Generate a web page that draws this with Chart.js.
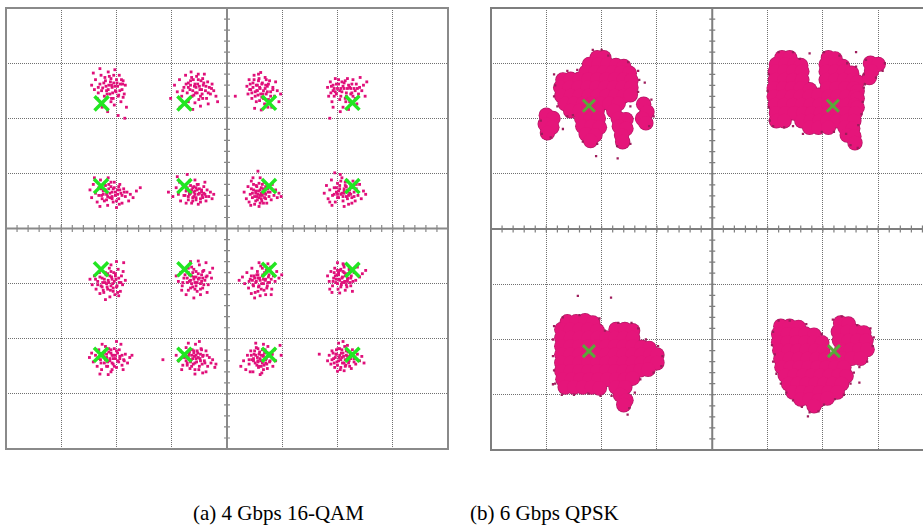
<!DOCTYPE html>
<html>
<head>
<meta charset="utf-8">
<script src="https://cdn.jsdelivr.net/npm/chart.js@4.4.1/dist/chart.umd.min.js"></script>
<style>
  html, body { margin: 0; padding: 0; background: #fff; width: 923px; height: 526px; overflow: hidden; }
  #stage { position: relative; width: 923px; height: 526px; overflow: hidden; }
  .panel { position: absolute; top: 0; width: 460px; height: 460px; }
  #panelA { left: 0; }
  #panelB { left: 485px; filter: blur(0.4px); }
  .caption { position: absolute; top: 503px; font-family: 'Liberation Serif', 'Times New Roman', serif;
             font-size: 21px; line-height: 21px; color: #000; white-space: nowrap; }
</style>
</head>
<body>
<div id="stage">
  <canvas id="panelA" class="panel" width="460" height="460"></canvas>
  <canvas id="panelB" class="panel" width="460" height="460"></canvas>
  <div class="caption" style="left:193px">(a) 4 Gbps 16-QAM</div>
  <div class="caption" style="left:470px">(b) 6 Gbps QPSK</div>
</div>
<script>
// ---------- 16-QAM, 4 Gbps: ideal symbol positions ----------
const qamIdeal = [
  [-2.27, 2.27], [-0.77, 2.27], [0.76, 2.28], [2.27, 2.28],
  [-2.28, 0.77], [-0.77, 0.77], [0.76, 0.77], [2.27, 0.77],
  [-2.28, -0.74], [-0.77, -0.74], [0.76, -0.75], [2.27, -0.75],
  [-2.28, -2.29], [-0.77, -2.29], [0.76, -2.29], [2.27, -2.29]
];

// ---------- 16-QAM received samples, one array per symbol (row A = top) ----------
const qamA1 = [[-2.45,2.60],[-2.40,2.52],[-2.38,2.70],[-2.33,2.46],[-2.30,2.62],[-2.28,2.78],[-2.25,2.55],[-2.22,2.40],[-2.20,2.68],[-2.18,2.50],
  [-2.15,2.84],[-2.14,2.60],[-2.12,2.44],[-2.10,2.72],[-2.08,2.56],[-2.06,2.36],[-2.05,2.64],[-2.03,2.88],[-2.02,2.50],[-2.00,2.70],
  [-1.98,2.58],[-1.96,2.42],[-1.95,2.78],[-1.93,2.62],[-1.92,2.30],[-1.90,2.52],[-1.88,2.68],[-1.86,2.44],[-1.84,2.60],[-1.82,2.20],
  [-2.35,2.36],[-2.26,2.20],[-2.16,2.12],[-2.04,2.24],[-1.97,2.05],[-1.85,2.00],[-2.30,2.90],[-2.42,2.82],[-1.88,2.38],[-2.10,2.30],
  [-2.09,2.60],[-2.01,2.48],[-2.15,2.52],[-1.99,2.64],[-2.11,2.66],[-2.19,2.58],[-2.03,2.58],[-1.94,2.50],[-2.07,2.46],[-2.23,2.64],
  [-1.91,2.70],[-2.13,2.76],[-2.27,2.50],[-2.05,2.78],[-1.97,2.40],[-2.17,2.44],[-2.33,2.56],[-1.89,2.62],[-2.21,2.74],[-2.09,2.36]];
const qamA2 = [[-1.02,2.36],[-0.95,2.60],[-0.90,2.48],[-0.86,2.70],[-0.82,2.40],[-0.78,2.56],[-0.75,2.78],[-0.72,2.46],[-0.70,2.64],[-0.67,2.52],
  [-0.65,2.84],[-0.63,2.40],[-0.61,2.70],[-0.59,2.58],[-0.57,2.46],[-0.55,2.76],[-0.53,2.62],[-0.51,2.34],[-0.49,2.52],[-0.47,2.68],
  [-0.45,2.44],[-0.43,2.60],[-0.41,2.80],[-0.39,2.50],[-0.37,2.36],[-0.35,2.66],[-0.32,2.56],[-0.30,2.44],[-0.27,2.62],[-0.24,2.50],
  [-0.20,2.40],[-0.17,2.30],[-0.85,2.20],[-0.62,2.16],[-0.48,2.22],[-0.34,2.26],[-0.70,2.30],[-0.58,2.28],[-0.44,2.72],[-0.66,2.60],
  [-0.58,2.62],[-0.50,2.58],[-0.62,2.50],[-0.54,2.46],[-0.46,2.52],[-0.66,2.68],[-0.42,2.64],[-0.60,2.42],[-0.52,2.70],[-0.70,2.56],
  [-0.38,2.58],[-0.48,2.40],[-0.74,2.62],[-0.56,2.56],[-0.34,2.46],[-0.64,2.74],[-0.44,2.36],[-0.80,2.50],[-0.28,2.54],[-0.52,2.80]];
const qamA3 = [[0.15,2.40],[0.36,2.58],[0.38,2.44],[0.40,2.70],[0.43,2.52],[0.45,2.36],[0.47,2.64],[0.49,2.78],[0.51,2.48],[0.53,2.30],
  [0.55,2.60],[0.56,2.42],[0.58,2.72],[0.60,2.54],[0.61,2.83],[0.63,2.38],[0.64,2.64],[0.66,2.50],[0.68,2.26],[0.69,2.74],
  [0.71,2.44],[0.73,2.58],[0.75,2.34],[0.77,2.68],[0.79,2.48],[0.81,2.20],[0.83,2.56],[0.86,2.40],[0.88,2.66],[0.91,2.50],
  [0.94,2.30],[0.97,2.44],[0.50,2.18],[0.62,2.15],[0.74,2.20],[0.42,2.62],[0.57,2.80],[0.70,2.60],[0.54,2.50],[0.66,2.36],
  [0.59,2.56],[0.65,2.44],[0.55,2.50],[0.63,2.62],[0.69,2.54],[0.51,2.40],[0.57,2.68],[0.73,2.48],[0.47,2.56],[0.67,2.36],
  [0.61,2.44],[0.53,2.60],[0.75,2.62],[0.45,2.46],[0.71,2.70],[0.49,2.70],[0.79,2.40],[0.59,2.32],[0.83,2.52],[0.41,2.52]];
const qamA4 = [[1.82,2.56],[1.84,2.40],[1.86,2.00],[1.87,2.66],[1.90,2.30],[1.92,2.50],[1.94,2.54],[1.96,2.72],[1.98,2.44],[2.00,2.54],
  [2.02,2.62],[2.04,2.34],[2.06,2.54],[2.08,2.48],[2.10,2.20],[2.12,2.54],[2.14,2.68],[2.16,2.40],[2.18,2.54],[2.20,2.60],
  [2.22,2.30],[2.24,2.54],[2.26,2.46],[2.28,2.70],[2.30,2.54],[2.32,2.36],[2.34,2.62],[2.36,2.54],[2.38,2.44],[2.41,2.74],
  [2.44,2.50],[2.47,2.60],[2.50,2.40],[2.53,2.66],[1.92,2.20],[2.05,2.12],[2.20,2.16],[1.89,2.58],[2.15,2.30],[2.35,2.26],
  [2.04,2.50],[2.10,2.58],[1.98,2.62],[2.16,2.46],[2.12,2.64],[1.96,2.48],[2.22,2.56],[2.06,2.40],[2.18,2.72],[1.92,2.60],
  [2.26,2.62],[2.02,2.70],[2.28,2.40],[1.94,2.40],[2.32,2.50],[2.08,2.66],[2.40,2.56],[2.14,2.36],[1.88,2.46],[2.24,2.44]];
const qamB1 = [[-2.48,0.70],[-2.45,0.56],[-2.42,0.80],[-2.38,0.64],[-2.35,0.48],[-2.32,0.74],[-2.29,0.88],[-2.27,0.60],[-2.24,0.68],[-2.22,0.50],
  [-2.20,0.78],[-2.18,0.62],[-2.16,0.42],[-2.14,0.72],[-2.12,0.56],[-2.10,0.84],[-2.08,0.66],[-2.06,0.48],[-2.04,0.74],[-2.02,0.60],
  [-2.00,0.38],[-1.98,0.70],[-1.96,0.54],[-1.94,0.80],[-1.92,0.64],[-1.90,0.46],[-1.87,0.72],[-1.84,0.58],[-1.81,0.66],[-1.78,0.50],
  [-1.75,0.62],[-1.70,0.56],[-1.64,0.68],[-1.57,0.74],[-2.30,0.40],[-2.40,0.92],[-2.15,0.92],[-1.95,0.44],[-2.26,0.54],[-2.08,0.58],
  [-2.12,0.64],[-2.06,0.72],[-2.16,0.58],[-2.02,0.66],[-2.20,0.70],[-2.10,0.76],[-1.98,0.62],[-2.24,0.62],[-2.08,0.54],[-1.94,0.70],
  [-2.14,0.80],[-2.28,0.72],[-2.00,0.50],[-1.90,0.60],[-2.18,0.52],[-2.04,0.84],[-1.86,0.66],[-2.32,0.60],[-2.22,0.82],[-1.96,0.76]];
const qamB2 = [[-1.06,0.66],[-0.98,0.58],[-0.92,0.74],[-0.88,0.62],[-0.84,0.50],[-0.80,0.80],[-0.76,0.60],[-0.73,0.70],[-0.70,0.52],[-0.68,0.86],
  [-0.66,0.64],[-0.64,0.46],[-0.62,0.74],[-0.60,0.58],[-0.58,0.68],[-0.56,0.52],[-0.54,0.80],[-0.52,0.62],[-0.50,0.72],[-0.48,0.48],
  [-0.46,0.66],[-0.44,0.56],[-0.42,0.76],[-0.40,0.62],[-0.38,0.50],[-0.36,0.70],[-0.33,0.58],[-0.30,0.66],[-0.27,0.54],[-0.24,0.62],
  [-0.90,0.94],[-0.72,0.98],[-0.58,0.88],[-0.86,0.84],[-0.62,0.56],[-0.52,0.44],[-0.68,0.62],[-0.45,0.60],[-0.74,0.46],[-0.40,0.84],
  [-0.64,0.70],[-0.58,0.62],[-0.68,0.64],[-0.54,0.70],[-0.60,0.76],[-0.70,0.58],[-0.50,0.64],[-0.56,0.56],[-0.66,0.78],[-0.46,0.70],
  [-0.74,0.68],[-0.62,0.50],[-0.52,0.80],[-0.42,0.64],[-0.78,0.60],[-0.48,0.54],[-0.56,0.74],[-0.72,0.74],[-0.38,0.58],[-0.60,0.66]];
const qamB3 = [[0.31,0.66],[0.35,0.54],[0.38,0.76],[0.40,0.48],[0.42,0.62],[0.44,0.86],[0.46,0.56],[0.48,0.70],[0.50,0.44],[0.52,0.64],
  [0.53,0.78],[0.55,0.52],[0.57,0.68],[0.58,0.40],[0.60,0.60],[0.62,0.74],[0.63,0.50],[0.65,0.66],[0.67,0.84],[0.68,0.56],
  [0.70,0.62],[0.72,0.46],[0.74,0.72],[0.76,0.58],[0.78,0.66],[0.80,0.52],[0.82,0.80],[0.85,0.60],[0.88,0.70],[0.91,0.56],
  [0.94,0.64],[0.98,0.58],[0.56,1.04],[0.60,0.92],[0.47,0.92],[0.66,0.46],[0.43,0.42],[0.54,0.58],[0.70,0.76],[0.62,0.54],
  [0.56,0.62],[0.60,0.70],[0.52,0.68],[0.64,0.60],[0.58,0.56],[0.50,0.58],[0.66,0.72],[0.54,0.76],[0.62,0.64],[0.46,0.64],
  [0.70,0.54],[0.58,0.82],[0.44,0.72],[0.68,0.64],[0.52,0.50],[0.74,0.66],[0.60,0.46],[0.48,0.80],[0.76,0.76],[0.64,0.80]];
const qamB4 = [[1.76,0.64],[1.80,0.78],[1.83,0.54],[1.86,0.70],[1.89,0.88],[1.91,0.60],[1.94,0.74],[1.96,0.48],[1.98,0.66],[2.00,0.82],
  [2.02,0.56],[2.04,0.72],[2.06,0.62],[2.08,0.92],[2.10,0.50],[2.12,0.68],[2.14,0.78],[2.16,0.58],[2.18,0.70],[2.20,0.44],
  [2.22,0.64],[2.24,0.76],[2.26,0.56],[2.28,0.86],[2.30,0.66],[2.32,0.50],[2.34,0.72],[2.37,0.60],[2.40,0.80],[2.43,0.54],
  [2.47,0.68],[2.51,0.62],[1.95,1.01],[2.05,0.98],[1.90,0.42],[2.12,0.40],[2.00,0.62],[2.18,0.86],[2.26,0.46],[1.86,0.48],
  [2.12,0.72],[2.18,0.66],[2.08,0.64],[2.16,0.76],[2.22,0.70],[2.04,0.78],[2.10,0.58],[2.20,0.60],[2.02,0.68],[2.26,0.74],
  [2.14,0.84],[1.98,0.74],[2.24,0.62],[2.06,0.86],[2.30,0.58],[1.94,0.62],[2.18,0.54],[2.34,0.80],[2.00,0.56],[2.12,0.64]];
const qamC1 = [[-2.48,-0.92],[-2.44,-1.02],[-2.40,-0.86],[-2.37,-1.10],[-2.34,-0.96],[-2.31,-0.80],[-2.28,-1.04],[-2.26,-0.90],[-2.23,-1.16],[-2.21,-0.98],
  [-2.19,-0.84],[-2.17,-1.06],[-2.15,-0.94],[-2.13,-0.72],[-2.11,-1.12],[-2.09,-0.88],[-2.07,-1.00],[-2.05,-0.80],[-2.03,-1.20],[-2.01,-0.92],
  [-1.99,-1.04],[-1.97,-0.74],[-1.95,-0.98],[-1.93,-1.14],[-1.91,-0.86],[-1.89,-1.02],[-1.87,-0.62],[-1.84,-0.94],[-2.20,-1.29],[-2.12,-1.24],
  [-2.00,-0.60],[-2.10,-0.66],[-2.30,-1.18],[-1.96,-1.22],[-2.25,-0.98],[-2.06,-1.08],[-2.16,-0.82],[-1.88,-0.78],[-2.38,-0.92],[-2.02,-0.86],
  [-2.14,-0.98],[-2.08,-0.92],[-2.18,-1.00],[-2.10,-1.04],[-2.04,-0.96],[-2.22,-0.92],[-2.12,-0.86],[-2.00,-1.06],[-2.26,-1.06],[-2.06,-1.14],
  [-1.96,-0.90],[-2.16,-1.10],[-2.30,-0.88],[-2.02,-0.82],[-1.92,-0.98],[-2.20,-0.80],[-2.34,-1.02],[-1.98,-1.16],[-2.10,-0.78],[-2.24,-1.12]];
const qamC2 = [[-0.92,-0.86],[-0.88,-0.96],[-0.84,-0.80],[-0.81,-1.04],[-0.78,-0.90],[-0.75,-0.74],[-0.72,-0.98],[-0.70,-1.12],[-0.68,-0.84],[-0.66,-0.94],
  [-0.64,-0.70],[-0.62,-1.06],[-0.60,-0.88],[-0.58,-0.98],[-0.56,-0.78],[-0.54,-1.14],[-0.52,-0.92],[-0.50,-0.66],[-0.48,-1.00],[-0.46,-0.84],
  [-0.44,-1.08],[-0.42,-0.76],[-0.40,-0.94],[-0.38,-0.62],[-0.36,-0.86],[-0.34,-1.02],[-0.31,-0.80],[-0.28,-0.90],[-0.26,-0.72],[-0.74,-1.20],
  [-0.60,-1.26],[-0.48,-1.20],[-0.66,-0.60],[-0.52,-0.59],[-0.82,-1.12],[-0.56,-0.88],[-0.64,-1.00],[-0.44,-0.90],[-0.70,-0.80],[-0.36,-1.16],
  [-0.60,-0.92],[-0.54,-0.98],[-0.64,-0.86],[-0.56,-1.04],[-0.50,-0.90],[-0.68,-0.96],[-0.62,-0.80],[-0.46,-0.96],[-0.58,-1.10],[-0.72,-0.90],
  [-0.52,-0.82],[-0.42,-1.02],[-0.66,-1.08],[-0.76,-0.84],[-0.48,-1.10],[-0.38,-0.88],[-0.70,-0.72],[-0.60,-0.74],[-0.80,-0.98],[-0.44,-0.78]];
const qamC3 = [[0.22,-0.94],[0.28,-0.88],[0.32,-1.00],[0.36,-0.80],[0.39,-1.08],[0.42,-0.92],[0.45,-0.72],[0.47,-1.02],[0.49,-0.86],[0.51,-1.16],
  [0.53,-0.96],[0.55,-0.78],[0.57,-1.06],[0.59,-0.90],[0.61,-0.68],[0.63,-1.00],[0.65,-0.84],[0.67,-1.12],[0.69,-0.94],[0.71,-0.76],
  [0.73,-1.04],[0.75,-0.88],[0.77,-0.98],[0.79,-0.70],[0.81,-1.10],[0.84,-0.86],[0.87,-0.96],[0.90,-0.78],[0.94,-0.90],[0.99,-0.84],
  [0.50,-1.26],[0.60,-1.22],[0.70,-1.20],[0.44,-1.18],[0.58,-0.62],[0.80,-1.20],[0.46,-0.94],[0.66,-0.92],[0.56,-0.84],[0.74,-0.64],
  [0.60,-0.94],[0.66,-1.00],[0.56,-0.90],[0.64,-0.86],[0.58,-1.04],[0.70,-0.92],[0.52,-0.98],[0.62,-1.10],[0.68,-0.80],[0.54,-0.84],
  [0.74,-0.98],[0.48,-1.04],[0.72,-1.08],[0.50,-0.90],[0.76,-0.84],[0.44,-0.86],[0.64,-0.72],[0.56,-1.14],[0.80,-0.92],[0.40,-0.96]];
const qamC4 = [[1.82,-0.86],[1.85,-0.96],[1.88,-0.78],[1.91,-1.04],[1.93,-0.90],[1.95,-0.72],[1.97,-0.98],[1.99,-0.84],[2.01,-1.10],[2.03,-0.92],
  [2.05,-0.76],[2.07,-1.02],[2.09,-0.88],[2.11,-0.66],[2.13,-0.96],[2.15,-0.82],[2.17,-1.06],[2.19,-0.90],[2.21,-0.74],[2.23,-0.98],
  [2.25,-0.86],[2.27,-1.14],[2.30,-0.80],[2.33,-0.94],[2.36,-0.70],[2.40,-0.88],[2.45,-0.82],[2.51,-0.76],[1.90,-1.16],[2.04,-1.17],
  [2.14,-1.12],[2.00,-0.62],[2.10,-0.64],[1.96,-0.86],[2.08,-0.98],[2.18,-0.96],[1.86,-1.10],[2.24,-1.04],[2.02,-0.80],[2.12,-0.80],
  [2.08,-0.90],[2.14,-0.86],[2.04,-0.94],[2.12,-0.98],[2.02,-0.84],[2.18,-0.92],[2.10,-0.78],[2.00,-1.00],[2.20,-0.82],[1.98,-0.92],
  [2.16,-1.02],[2.06,-0.74],[2.24,-0.90],[1.94,-0.80],[2.22,-0.76],[2.06,-1.06],[1.92,-0.96],[2.28,-0.96],[2.12,-0.70],[2.00,-0.76]];
const qamD1 = [[-2.49,-2.34],[-2.45,-2.26],[-2.42,-2.42],[-2.38,-2.30],[-2.35,-2.50],[-2.32,-2.20],[-2.29,-2.38],[-2.27,-2.56],[-2.24,-2.28],[-2.22,-2.44],
  [-2.20,-2.14],[-2.18,-2.34],[-2.16,-2.50],[-2.14,-2.24],[-2.12,-2.40],[-2.10,-2.60],[-2.08,-2.30],[-2.06,-2.46],[-2.04,-2.18],[-2.02,-2.36],
  [-2.00,-2.52],[-1.98,-2.26],[-1.96,-2.42],[-1.94,-2.32],[-1.92,-2.10],[-1.90,-2.48],[-1.87,-2.38],[-1.84,-2.28],[-1.80,-2.44],[-1.76,-2.34],
  [-1.72,-2.30],[-2.30,-2.64],[-2.15,-2.65],[-2.00,-2.05],[-2.26,-2.10],[-1.88,-2.56],[-2.10,-2.20],[-2.06,-2.36],[-2.18,-2.28],[-1.95,-2.20],
  [-2.12,-2.36],[-2.06,-2.30],[-2.16,-2.42],[-2.08,-2.44],[-2.02,-2.30],[-2.20,-2.38],[-2.10,-2.26],[-1.98,-2.40],[-2.24,-2.32],[-2.04,-2.50],
  [-1.94,-2.36],[-2.14,-2.18],[-2.28,-2.44],[-2.00,-2.22],[-1.90,-2.30],[-2.18,-2.50],[-2.32,-2.36],[-1.86,-2.40],[-2.22,-2.24],[-2.08,-2.56]];
const qamD2 = [[-1.16,-2.38],[-0.92,-2.30],[-0.88,-2.40],[-0.84,-2.22],[-0.80,-2.48],[-0.77,-2.34],[-0.74,-2.16],[-0.72,-2.44],[-0.69,-2.28],[-0.67,-2.54],
  [-0.65,-2.38],[-0.63,-2.20],[-0.61,-2.46],[-0.59,-2.32],[-0.57,-2.10],[-0.55,-2.42],[-0.53,-2.26],[-0.51,-2.56],[-0.49,-2.36],[-0.47,-2.18],
  [-0.45,-2.46],[-0.43,-2.30],[-0.41,-2.40],[-0.38,-2.22],[-0.35,-2.50],[-0.32,-2.34],[-0.29,-2.44],[-0.26,-2.38],[-0.22,-2.52],[-0.20,-2.46],
  [-0.50,-2.05],[-0.44,-2.62],[-0.58,-2.64],[-0.70,-2.08],[-0.82,-2.56],[-0.64,-2.30],[-0.56,-2.36],[-0.48,-2.28],[-0.38,-2.60],[-0.60,-2.22],
  [-0.62,-2.36],[-0.56,-2.30],[-0.66,-2.42],[-0.58,-2.44],[-0.52,-2.34],[-0.70,-2.32],[-0.60,-2.26],[-0.48,-2.40],[-0.64,-2.50],[-0.54,-2.22],
  [-0.74,-2.40],[-0.44,-2.32],[-0.68,-2.24],[-0.50,-2.50],[-0.78,-2.30],[-0.40,-2.44],[-0.58,-2.56],[-0.36,-2.30],[-0.72,-2.48],[-0.46,-2.20]];
const qamD3 = [[0.25,-2.50],[0.30,-2.40],[0.34,-2.56],[0.37,-2.30],[0.40,-2.46],[0.43,-2.22],[0.45,-2.38],[0.47,-2.60],[0.49,-2.28],[0.51,-2.44],
  [0.53,-2.16],[0.55,-2.34],[0.57,-2.52],[0.59,-2.24],[0.61,-2.40],[0.63,-2.62],[0.65,-2.30],[0.67,-2.48],[0.69,-2.20],[0.71,-2.36],
  [0.73,-2.54],[0.75,-2.26],[0.77,-2.42],[0.80,-2.32],[0.83,-2.50],[0.86,-2.20],[0.88,-2.40],[0.96,-2.12],[0.98,-2.30],[0.60,-2.65],
  [0.52,-2.08],[0.66,-2.10],[0.42,-2.60],[0.56,-2.40],[0.70,-2.44],[0.62,-2.30],[0.48,-2.36],[0.74,-2.14],[0.58,-2.50],[0.64,-2.20],
  [0.60,-2.36],[0.66,-2.32],[0.56,-2.42],[0.64,-2.44],[0.58,-2.28],[0.70,-2.38],[0.52,-2.30],[0.62,-2.50],[0.68,-2.26],[0.54,-2.48],
  [0.74,-2.32],[0.48,-2.40],[0.72,-2.46],[0.50,-2.22],[0.78,-2.40],[0.44,-2.30],[0.66,-2.56],[0.56,-2.18],[0.82,-2.28],[0.40,-2.38]];
const qamD4 = [[1.67,-2.28],[1.82,-2.40],[1.85,-2.30],[1.88,-2.46],[1.90,-2.22],[1.93,-2.36],[1.95,-2.52],[1.97,-2.28],[1.99,-2.42],[2.01,-2.18],
  [2.03,-2.34],[2.05,-2.56],[2.07,-2.26],[2.09,-2.44],[2.11,-2.32],[2.13,-2.14],[2.15,-2.48],[2.17,-2.38],[2.19,-2.24],[2.21,-2.40],
  [2.23,-2.30],[2.25,-2.54],[2.27,-2.20],[2.30,-2.36],[2.33,-2.46],[2.36,-2.28],[2.40,-2.40],[2.44,-2.32],[2.48,-2.44],[2.10,-2.05],
  [2.02,-2.08],[2.00,-2.59],[2.12,-2.58],[1.94,-2.44],[2.06,-2.38],[2.16,-2.30],[2.22,-2.50],[1.98,-2.20],[2.08,-2.20],[2.18,-2.12],
  [2.08,-2.34],[2.14,-2.38],[2.04,-2.30],[2.12,-2.44],[2.02,-2.40],[2.18,-2.32],[2.10,-2.26],[2.00,-2.48],[2.20,-2.44],[1.96,-2.34],
  [2.16,-2.22],[2.06,-2.52],[2.24,-2.36],[1.92,-2.26],[2.26,-2.28],[2.04,-2.18],[1.90,-2.38],[2.30,-2.42],[2.14,-2.50],[1.98,-2.28]];

// ---------- QPSK, 6 Gbps: ideal symbol positions ----------
const qpskIdeal = [[-2.23, 2.23], [2.18, 2.23], [-2.23, -2.21], [2.20, -2.21]];

// ---------- QPSK received clouds: dense body and sparse fringe per symbol ----------
const qpskBodyTL = [
  [-2.08,3.10],[-1.96,3.10],
  [-2.22,2.98],[-2.06,2.98],[-1.90,2.98],[-1.74,2.96],[-1.60,2.94],
  [-2.28,2.84],[-2.12,2.84],[-1.96,2.84],[-1.80,2.84],[-1.64,2.84],[-1.50,2.82],
  [-2.70,2.70],[-2.56,2.71],[-2.40,2.71],[-2.24,2.71],[-2.08,2.71],[-1.92,2.71],[-1.76,2.71],[-1.60,2.71],[-1.47,2.69],
  [-2.74,2.56],[-2.58,2.56],[-2.42,2.56],[-2.26,2.56],[-2.10,2.56],[-1.94,2.56],[-1.78,2.56],[-1.62,2.56],[-1.47,2.56],
  [-2.72,2.41],[-2.56,2.41],[-2.40,2.41],[-2.24,2.41],[-2.08,2.41],[-1.92,2.41],[-1.76,2.41],[-1.60,2.41],[-1.48,2.43],
  [-2.66,2.27],[-2.50,2.27],[-2.34,2.27],[-2.18,2.27],[-2.02,2.27],[-1.86,2.27],[-1.70,2.27],
  [-2.56,2.14],[-2.40,2.14],[-2.24,2.14],[-2.08,2.14],[-1.78,2.14],
  [-3.00,2.06],[-2.88,2.00],[-3.02,1.90],[-2.90,1.84],[-2.98,1.74],
  [-2.36,2.00],[-2.20,2.00],[-2.06,2.00],[-2.34,1.86],[-2.18,1.86],[-2.04,1.84],[-2.28,1.72],[-2.12,1.70],[-2.20,1.60],
  [-1.70,2.00],[-1.56,1.98],[-1.68,1.86],[-1.56,1.82],[-1.64,1.70],[-1.62,1.58],
  [-1.24,2.26],[-1.18,2.12],[-1.26,2.00],[-1.20,1.92]
];
const qpskBodyTR = [
  [1.26,3.10],[1.40,3.10],
  [1.16,2.98],[1.32,2.98],[1.48,2.98],[1.60,2.96],
  [1.14,2.85],[1.30,2.85],[1.46,2.85],[1.62,2.85],
  [1.14,2.70],[1.30,2.70],[1.46,2.70],[1.62,2.70],
  [1.12,2.55],[1.28,2.55],[1.44,2.55],[1.60,2.55],[1.76,2.52],
  [1.12,2.40],[1.28,2.40],[1.44,2.40],[1.60,2.40],[1.76,2.40],[1.92,2.42],
  [1.14,2.25],[1.30,2.25],[1.46,2.25],[1.62,2.25],[1.78,2.25],[1.94,2.25],
  [1.16,2.10],[1.32,2.10],[1.48,2.10],[1.64,2.10],[1.80,2.10],[1.96,2.10],
  [1.16,1.96],[1.30,1.96],[1.62,1.96],[1.78,1.96],[1.94,1.96],
  [1.76,1.84],[1.92,1.84],
  [2.10,3.10],[2.22,3.08],
  [2.06,2.98],[2.22,2.98],[2.36,2.94],
  [2.06,2.85],[2.22,2.85],[2.38,2.85],[2.52,2.82],
  [2.06,2.70],[2.22,2.70],[2.38,2.70],[2.54,2.70],[2.62,2.66],
  [2.08,2.55],[2.24,2.55],[2.40,2.55],[2.56,2.55],[2.62,2.50],
  [2.10,2.40],[2.26,2.40],[2.42,2.40],[2.58,2.40],[2.62,2.36],
  [2.10,2.25],[2.26,2.25],[2.42,2.25],[2.58,2.25],[2.62,2.20],
  [2.10,2.10],[2.26,2.10],[2.42,2.10],[2.58,2.10],
  [2.08,1.96],[2.26,1.96],[2.42,1.96],[2.56,1.96],
  [2.10,1.84],[2.40,1.84],[2.54,1.82],
  [2.44,1.70],[2.56,1.68],[2.58,1.56],
  [2.86,3.00],[3.00,2.98],[2.88,2.86],[2.84,2.74]
];
const qpskBodyBL = [
  [-2.62,-1.68],[-2.46,-1.68],[-2.30,-1.66],[-2.16,-1.70],
  [-2.72,-1.82],[-2.56,-1.82],[-2.40,-1.82],[-2.24,-1.82],[-2.08,-1.84],[-1.74,-1.82],[-1.58,-1.82],[-1.44,-1.84],
  [-2.72,-1.97],[-2.56,-1.97],[-2.40,-1.97],[-2.24,-1.97],[-2.08,-1.97],[-1.92,-1.97],[-1.76,-1.97],[-1.60,-1.97],[-1.44,-1.97],
  [-2.72,-2.12],[-2.56,-2.12],[-2.40,-2.12],[-2.24,-2.12],[-2.08,-2.12],[-1.92,-2.12],[-1.76,-2.12],[-1.60,-2.12],[-1.44,-2.12],[-1.28,-2.14],[-1.14,-2.16],
  [-2.72,-2.27],[-2.56,-2.27],[-2.40,-2.27],[-2.24,-2.27],[-2.08,-2.27],[-1.92,-2.27],[-1.76,-2.27],[-1.60,-2.27],[-1.44,-2.27],[-1.28,-2.27],[-1.12,-2.27],[-1.00,-2.28],
  [-2.72,-2.42],[-2.56,-2.42],[-2.40,-2.42],[-2.24,-2.42],[-2.08,-2.42],[-1.92,-2.42],[-1.76,-2.42],[-1.60,-2.42],[-1.44,-2.42],[-1.28,-2.42],[-1.12,-2.42],[-1.00,-2.42],
  [-2.72,-2.57],[-2.56,-2.57],[-2.40,-2.57],[-2.24,-2.57],[-2.08,-2.57],[-1.92,-2.57],[-1.76,-2.57],[-1.60,-2.57],[-1.44,-2.57],[-1.30,-2.55],[-1.16,-2.54],
  [-2.70,-2.72],[-2.54,-2.72],[-2.38,-2.72],[-2.22,-2.72],[-2.06,-2.72],[-1.90,-2.72],[-1.74,-2.72],[-1.58,-2.72],[-1.44,-2.70],
  [-2.66,-2.86],[-2.50,-2.86],[-2.34,-2.86],[-2.18,-2.86],[-2.04,-2.88],[-1.74,-2.86],[-1.58,-2.86],
  [-1.66,-3.00],[-1.56,-3.10],[-1.60,-3.18]
];
const qpskBodyBR = [
  [1.24,-1.76],[1.40,-1.76],[1.56,-1.78],[2.32,-1.70],[2.46,-1.72],
  [1.20,-1.90],[1.36,-1.90],[1.52,-1.90],[1.68,-1.90],[1.84,-1.92],[2.28,-1.86],[2.44,-1.86],[2.60,-1.86],[2.74,-1.88],
  [1.20,-2.05],[1.36,-2.05],[1.52,-2.05],[1.68,-2.05],[1.84,-2.05],[1.98,-2.06],[2.30,-2.02],[2.46,-2.02],[2.62,-2.02],[2.78,-2.02],
  [1.22,-2.20],[1.38,-2.20],[1.54,-2.20],[1.70,-2.20],[1.86,-2.20],[2.00,-2.22],[2.34,-2.18],[2.50,-2.18],[2.66,-2.18],[2.80,-2.18],
  [1.24,-2.35],[1.40,-2.35],[1.56,-2.35],[1.72,-2.35],[1.88,-2.35],[2.04,-2.35],[2.20,-2.36],[2.36,-2.34],[2.52,-2.34],[2.68,-2.34],
  [1.26,-2.50],[1.42,-2.50],[1.58,-2.50],[1.74,-2.50],[1.90,-2.50],[2.06,-2.50],[2.22,-2.50],[2.38,-2.50],
  [1.32,-2.65],[1.48,-2.65],[1.64,-2.65],[1.80,-2.65],[1.96,-2.65],[2.12,-2.65],[2.28,-2.65],[2.42,-2.66],
  [1.38,-2.80],[1.54,-2.80],[1.70,-2.80],[1.86,-2.80],[2.02,-2.80],[2.18,-2.80],[2.34,-2.80],
  [1.46,-2.95],[1.62,-2.95],[1.78,-2.95],[1.94,-2.95],[2.10,-2.95],[2.26,-2.95],
  [1.60,-3.08],[1.76,-3.08],[1.92,-3.10],[2.08,-3.06],
  [1.84,-3.20]
];
const qpskFringeTL = [[-2.86,2.80],[-2.84,2.60],[-2.86,2.40],[-2.80,2.22],[-2.62,2.04],[-2.52,2.06],[-2.16,3.24],[-2.00,3.24],[-1.88,3.14],[-1.52,3.02],
  [-1.34,2.86],[-1.32,2.70],[-1.34,2.48],[-1.48,2.22],[-1.10,2.34],[-1.06,2.04],[-1.14,1.86],[-1.48,1.54],[-1.72,1.50],[-2.08,1.54],
  [-2.34,1.58],[-3.10,1.96],[-3.08,1.72],[-2.92,1.66],[-2.70,1.81],[-2.10,1.32],[-1.71,1.28],[-1.22,2.65],[-2.62,2.86],[-2.44,2.88]];
const qpskFringeTR = [[1.02,2.80],[1.00,2.50],[1.02,2.20],[1.04,1.96],[1.10,1.86],[1.30,1.84],[1.46,1.86],[1.20,3.20],[1.46,3.20],[1.58,3.08],
  [1.76,3.18],[2.02,3.20],[2.30,3.14],[2.44,3.00],[2.60,2.94],[2.74,2.80],[2.74,2.56],[2.72,2.30],[2.70,2.08],[2.64,1.88],
  [2.42,1.72],[2.63,1.47],[2.50,1.52],[1.64,1.72],[2.60,3.20],[2.78,3.06],[3.12,3.00],[3.08,2.86],[2.96,2.74],[2.76,2.62],[1.98,1.76],[2.20,1.76]];
const qpskFringeBL = [[-2.86,-1.76],[-2.88,-2.00],[-2.88,-2.30],[-2.86,-2.56],[-2.84,-2.80],[-2.88,-2.81],[-2.72,-3.00],[-2.50,-3.00],[-2.24,-2.98],[-2.02,-3.02],
  [-1.82,-3.02],[-1.50,-3.24],[-1.53,-3.36],[-1.40,-2.96],[-1.30,-2.72],[-1.06,-2.60],[-0.92,-2.48],[-0.90,-2.30],[-0.98,-2.12],[-1.20,-2.00],
  [-1.34,-1.80],[-1.46,-1.70],[-1.70,-1.70],[-1.94,-1.84],[-2.04,-1.62],[-2.40,-1.56],[-2.70,-1.60],[-2.43,-1.21],[-1.83,-1.24]];
const qpskFringeBR = [[1.10,-1.86],[1.08,-2.10],[1.10,-2.40],[1.13,-2.27],[1.16,-2.62],[1.24,-2.80],[1.34,-2.96],[1.46,-3.10],[1.62,-3.22],[1.76,-3.32],
  [1.92,-3.30],[1.73,-3.39],[2.02,-3.18],[2.22,-3.08],[2.38,-3.00],[2.50,-2.80],[2.56,-2.60],[2.66,-2.50],[2.80,-2.40],[2.90,-2.12],
  [2.92,-1.96],[2.86,-1.80],[2.66,-2.78],[2.62,-1.74],[2.34,-1.58],[2.18,-1.64],[1.70,-1.72],[1.20,-1.66],[1.40,-1.66],[1.98,-1.90]];

// ---------- helpers ----------
const toXY = pts => pts.map(([x, y]) => ({ x, y }));

// Minor tick positions along the centre axes, every 0.2 division
const minorTicks = [];
for (let k = -19; k <= 19; k++) if (k !== 0) minorTicks.push(k / 5);

// Oscilloscope-style frame with centre cross-hair and minor ticks
const scopeFrame = {
  id: 'scopeFrame',
  beforeDatasetsDraw(chart, args, opts) {
    const { ctx, chartArea: a, scales: { x, y } } = chart;
    const cx = x.getPixelForValue(0), cy = y.getPixelForValue(0);
    ctx.save();
    ctx.strokeStyle = opts.color;
    ctx.lineWidth = 2;
    ctx.strokeRect(a.left, a.top, a.right - a.left, a.bottom - a.top);
    ctx.beginPath();
    ctx.moveTo(a.left, cy); ctx.lineTo(a.right, cy);
    ctx.moveTo(cx, a.top); ctx.lineTo(cx, a.bottom);
    ctx.stroke();
    ctx.lineWidth = 1.2;
    ctx.beginPath();
    for (const v of minorTicks) {
      const px = x.getPixelForValue(v), py = y.getPixelForValue(v);
      ctx.moveTo(px, cy - 3.5); ctx.lineTo(px, cy + 3.5);
      ctx.moveTo(cx - 3, py); ctx.lineTo(cx + 3, py);
    }
    ctx.stroke();
    ctx.restore();
  }
};

// Axes carry only the dotted graticule: no labels, no reserved room
function collapse(scale) {
  if (scale.isHorizontal()) scale.height = 0; else scale.width = 0;
  scale.paddingLeft = scale.paddingRight = scale.paddingTop = scale.paddingBottom = 0;
}

function scopeOptions(padding, frameColor) {
  const axis = {
    type: 'linear', min: -4, max: 4,
    ticks: { display: false, stepSize: 1 },
    grid: { color: '#707070', lineWidth: 1, drawTicks: false },
    border: { display: false, dash: [1, 1] },
    afterFit: collapse
  };
  return {
    responsive: false,
    animation: false,
    events: [],
    layout: { padding, autoPadding: false },
    plugins: { legend: { display: false }, tooltip: { enabled: false }, scopeFrame: { color: frameColor } },
    scales: { x: { ...axis }, y: { ...axis } }
  };
}

// ---------- (a) 16-QAM ----------
const qamSamples = [qamA1, qamA2, qamA3, qamA4, qamB1, qamB2, qamB3, qamB4,
                    qamC1, qamC2, qamC3, qamC4, qamD1, qamD2, qamD3, qamD4].flat();

new Chart(document.getElementById('panelA'), {
  type: 'scatter',
  data: {
    datasets: [
      { label: 'Ideal', data: toXY(qamIdeal), pointStyle: 'crossRot', pointRadius: 10,
        borderColor: '#22e622', pointBorderWidth: 3.5, backgroundColor: '#22e622' },
      { label: 'Received', data: toXY(qamSamples), pointStyle: 'rect', pointRadius: 2.0,
        backgroundColor: '#e0107a', borderWidth: 0, pointBorderWidth: 0 }
    ]
  },
  options: scopeOptions({ left: 6, top: 8, right: 12, bottom: 11 }, '#8a8a8a'),
  plugins: [scopeFrame]
});

// ---------- (b) QPSK ----------
const qpskBody = [qpskBodyTL, qpskBodyTR, qpskBodyBL, qpskBodyBR].flat();
const qpskFringe = [qpskFringeTL, qpskFringeTR, qpskFringeBL, qpskFringeBR].flat();

new Chart(document.getElementById('panelB'), {
  type: 'scatter',
  data: {
    datasets: [
      { label: 'Ideal', data: toXY(qpskIdeal), pointStyle: 'crossRot', pointRadius: 8.5,
        borderColor: '#5aa83a', pointBorderWidth: 3, backgroundColor: '#5aa83a' },
      { label: 'Fringe', data: toXY(qpskFringe), pointStyle: 'rect', pointRadius: 1.6,
        backgroundColor: '#9e1d5c', borderWidth: 0, pointBorderWidth: 0 },
      { label: 'Body', data: toXY(qpskBody), pointStyle: 'circle', pointRadius: 7,
        backgroundColor: '#e5157a', borderWidth: 0, pointBorderWidth: 0 },
      { label: 'Body edge', data: toXY(qpskBody), pointStyle: 'circle', pointRadius: 7.7,
        backgroundColor: '#b41a66', borderWidth: 0, pointBorderWidth: 0 }
    ]
  },
  options: scopeOptions({ left: 6, top: 8, right: 11.5, bottom: 10 }, '#7e7e7e'),
  plugins: [scopeFrame]
});
</script>
</body>
</html>
